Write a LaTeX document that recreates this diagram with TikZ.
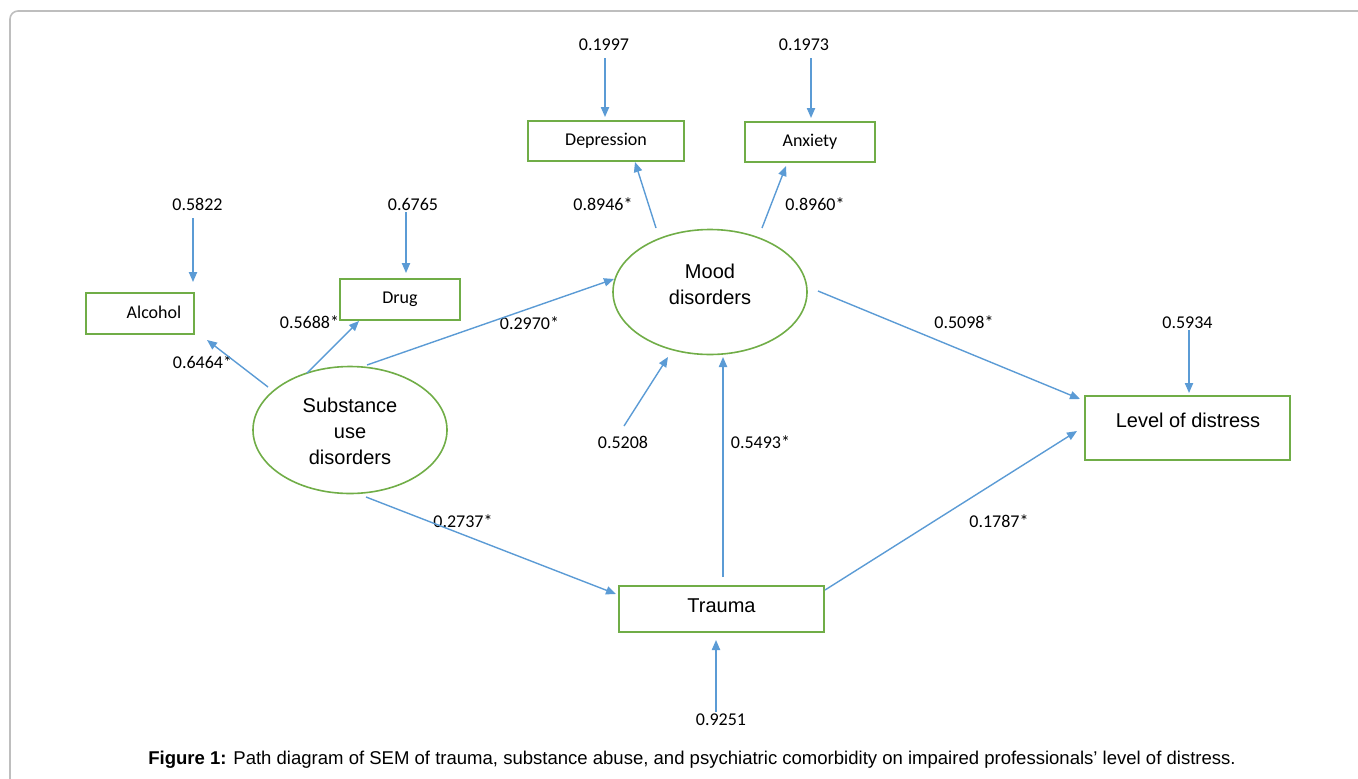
\documentclass[tikz,border=0pt]{standalone}
\usepackage{fontspec}
\setmainfont{Liberation Sans}
\newfontfamily\calfont{Carlito}
\usetikzlibrary{arrows.meta,calc,shapes.geometric}
\definecolor{arrblue}{RGB}{91,155,213}
\definecolor{boxgreen}{RGB}{112,173,71}
\definecolor{framegray}{RGB}{190,190,190}
\begin{document}
\begin{tikzpicture}[x=0.75pt,y=-0.75pt,
  box/.style={draw=boxgreen,line width=1.4pt,rectangle,inner sep=0pt,font=\calfont\fontsize{13.5}{16}\selectfont},
  bigbox/.style={draw=boxgreen,line width=1.4pt,rectangle,inner sep=0pt},
  ell/.style={draw=boxgreen,line width=1.2pt,ellipse,inner sep=0pt},
  lat/.style={font=\fontsize{15}{19.5}\selectfont,align=center,inner sep=0pt},
  num/.style={font=\calfont\fontsize{13.5}{16}\selectfont,inner sep=0pt},
  arr/.style={draw=arrblue,line width=1.05pt,-{Triangle[length=7.5pt,width=6.2pt]}}]
\useasboundingbox (0,0) rectangle (1358,778);
% frame
\draw[framegray,line width=1.2pt,rounded corners=6pt] (10,11) rectangle (1380,800);

% observed boxes
\node[box,minimum width=81pt,minimum height=30.75pt] (alc) at (140,313.5) {};
\node[num] (alct) at (154,312.5) {Alcohol};
\node[box,minimum width=90pt,minimum height=30.75pt] (drug) at (400,299.5) {Drug};
\node[box,minimum width=117pt,minimum height=30pt] (dep) at (606,141) {Depression};
\node[box,minimum width=97.5pt,minimum height=30pt] (anx) at (810,142) {Anxiety};
\node[bigbox,minimum width=153.75pt,minimum height=48pt] (lev) at (1187.5,428) {};
\node[lat] (levt) at (1188,420) {Level of distress};
\node[bigbox,minimum width=153.75pt,minimum height=34.5pt] (tra) at (721.5,609) {};
\node[lat] (trat) at (721.5,605.5) {Trauma};

% latent ellipses
\node[ell,minimum width=145.5pt,minimum height=95.25pt] (sub) at (350,430) {};
\node[lat] (subt) at (350,431) {Substance\\use\\disorders};
\node[ell,minimum width=145.5pt,minimum height=93.75pt] (mood) at (710,292) {};
\node[lat] (moodt) at (710,284.5) {Mood\\disorders};

% numbers
\node[num] (n5822) at (197.5,204) {0.5822};
\node[num] (n6765) at (413,204) {0.6765};
\node[num] (n1997) at (604,45) {0.1997};
\node[num] (n1973) at (804,45) {0.1973};
\node[num] (n8946) at (603,204) {0.8946*};
\node[num] (n8960) at (815,204) {0.8960*};
\node[num] (n5688) at (309.5,322) {0.5688*};
\node[num] (n6464) at (202.5,362) {0.6464*};
\node[num] (n2970) at (529.5,323) {0.2970*};
\node[num] (n5098) at (964,322) {0.5098*};
\node[num] (n5934) at (1187.5,323) {0.5934};
\node[num] (n5208) at (623,442) {0.5208};
\node[num] (n5493) at (760.5,442) {0.5493*};
\node[num] (n2737) at (463,521) {0.2737*};
\node[num] (n1787) at (999,521) {0.1787*};
\node[num] (n9251) at (721,720) {0.9251};

% error arrows
\draw[arr] ($(alc.center)+(53,-95.5)$) -- ($(alc.center)+(53,-31.5)$);
\draw[arr] ($(drug.center)+(6,-87.5)$) -- ($(drug.center)+(6,-26.5)$);
\draw[arr] ($(dep.center)+(-1,-83)$) -- ($(dep.center)+(-1,-24)$);
\draw[arr] ($(anx.center)+(1,-84)$) -- ($(anx.center)+(1,-24)$);
\draw[arr] ($(lev.center)+(1.5,-98)$) -- ($(lev.center)+(1.5,-35)$);
\draw[arr] ($(mood.center)+(-86,134)$) -- ($(mood.center)+(-42,65)$);
\draw[arr] ($(tra.center)+(-5.5,103)$) -- ($(tra.center)+(-5.5,31)$);

% loadings
\draw[arr] ($(mood.center)+(-54,-64)$) -- ($(dep.center)+(29,21)$);
\draw[arr] ($(mood.center)+(52,-64)$) -- ($(anx.center)+(-24,24)$);
\draw[arr] ($(sub.center)+(-82,-43)$) -- ($(alc.center)+(67,26.5)$);
\draw[arr] ($(sub.center)+(-43,-57)$) -- ($(drug.center)+(-41,21.5)$);

% structural paths
\draw[arr] ($(sub.center)+(17,-65)$) -- ($(mood.center)+(-96,-13)$);
\draw[arr] ($(mood.center)+(108,-1)$) -- ($(lev.center)+(-107.5,-29)$);
\draw[arr] ($(tra.center)+(1.5,-32)$) -- ($(mood.center)+(13,65)$);
\draw[arr] ($(sub.center)+(16,67)$) -- ($(tra.center)+(-105.5,-15)$);
\draw[arr] ($(tra.center)+(103.5,-19)$) -- ($(lev.center)+(-110.5,3)$);

% caption
\node[font=\fontsize{13.9}{16}\selectfont,inner sep=0pt] (cap) at (692,760) {\textbf{Figure 1:} Path diagram of SEM of trauma, substance abuse, and psychiatric comorbidity on impaired professionals’ level of distress.};
\end{tikzpicture}
\end{document}
